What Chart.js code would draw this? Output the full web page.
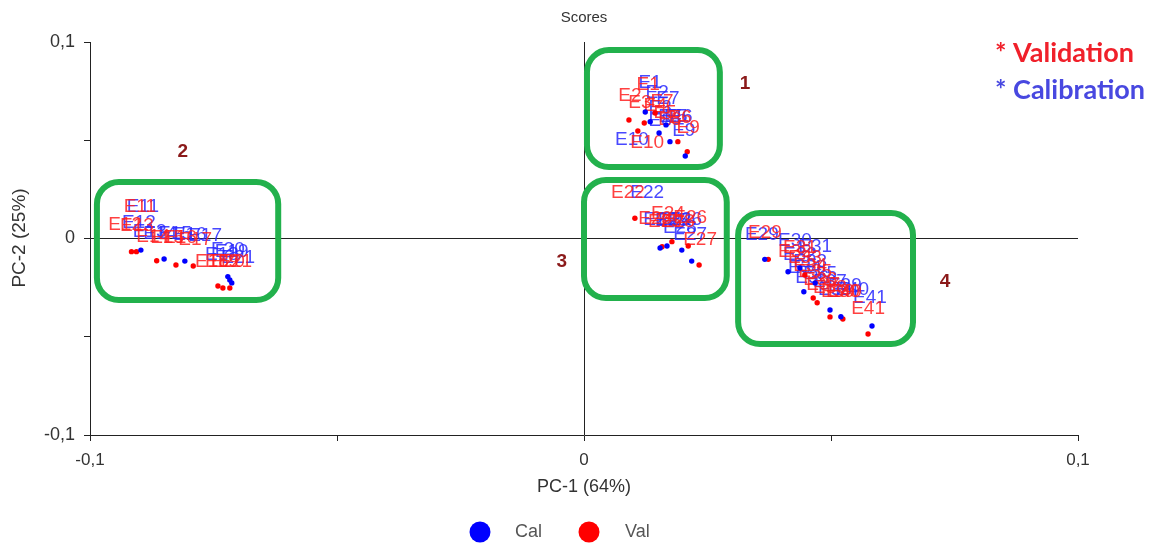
<!DOCTYPE html>
<html>
<head>
<meta charset="utf-8">
<script src="https://cdn.jsdelivr.net/npm/chart.js@4"></script>
<style>
  html, body { margin: 0; padding: 0; background: #fff; }
  #wrap { width: 1157px; height: 544px; }
</style>
</head>
<body>
<div id="wrap"><canvas id="scoresChart"></canvas></div>
<script>
// PCA scores, PC-1 vs PC-2
const calScores = [
    [0.0124, 0.0644], [0.0134, 0.0594], [0.0152, 0.0537], [0.0166, 0.0578], [0.0174, 0.0493], [0.0205, 0.0420],
    [-0.0897, -0.0059], [-0.0850, -0.0104], [-0.0808, -0.0115], [-0.0721, -0.0194], [-0.0717, -0.0211], [-0.0713, -0.0226],
    [0.0154, -0.0048], [0.0168, -0.0038], [0.0198, -0.0059], [0.0218, -0.0115],
    [0.0366, -0.0106], [0.0413, -0.0169], [0.0437, -0.0150], [0.0445, -0.0271], [0.0468, -0.0226],
    [0.0498, -0.0364], [0.0520, -0.0398], [0.0583, -0.0445]
];
const valScores = [
    [0.0091, 0.0603], [0.0122, 0.0588], [0.0109, 0.0547], [0.0144, 0.0639], [0.0190, 0.0493], [0.0209, 0.0442],
    [-0.0916, -0.0067], [-0.0906, -0.0067], [-0.0865, -0.0113], [-0.0826, -0.0135], [-0.0791, -0.0140],
    [-0.0741, -0.0242], [-0.0731, -0.0252], [-0.0717, -0.0252],
    [0.0103, 0.0103], [0.0158, -0.0042], [0.0178, -0.0016], [0.0211, -0.0038], [0.0233, -0.0135],
    [0.0373, -0.0106], [0.0447, -0.0186], [0.0464, -0.0303], [0.0472, -0.0327], [0.0498, -0.0399],
    [0.0524, -0.0410], [0.0575, -0.0486]
];

// sample names and where they sit
const calLabels = [
    ['E1', 0.0134, 0.0791], ['E2', 0.0148, 0.0740], ['E7', 0.0170, 0.0710], ['E3', 0.0154, 0.0664],
    ['E4', 0.0174, 0.0618], ['E5', 0.0186, 0.0618], ['E6', 0.0196, 0.0618], ['E8', 0.0154, 0.0598],
    ['E9', 0.0202, 0.0547], ['E10', 0.0097, 0.0501],
    ['E11', -0.0893, 0.0160], ['E12', -0.0901, 0.0079], ['E13', -0.0879, 0.0033], ['E14', -0.0858, 0.0023],
    ['E15', -0.0828, 0.0023], ['E16', -0.0798, 0.0018], ['E17', -0.0767, 0.0013], ['E18', -0.0733, -0.0084],
    ['E19', -0.0713, -0.0069], ['E20', -0.0721, -0.0059], ['E21', -0.0700, -0.0099],
    ['E22', 0.0128, 0.0232], ['E23', 0.0154, 0.0094], ['E24', 0.0184, 0.0094], ['E25', 0.0178, 0.0089],
    ['E26', 0.0205, 0.0094], ['E28', 0.0194, 0.0053], ['E27', 0.0215, 0.0018],
    ['E29', 0.0360, 0.0018], ['E30', 0.0427, -0.0013], ['E31', 0.0468, -0.0043], ['E32', 0.0437, -0.0084],
    ['E33', 0.0458, -0.0120], ['E34', 0.0447, -0.0150], ['E35', 0.0478, -0.0181], ['E36', 0.0462, -0.0201],
    ['E37', 0.0498, -0.0221], ['E38', 0.0508, -0.0262], ['E39', 0.0528, -0.0242], ['E40', 0.0543, -0.0262],
    ['E41', 0.0579, -0.0303]
];
const valLabels = [
    ['E1', 0.0130, 0.0781], ['E2', 0.0093, 0.0725], ['E3', 0.0113, 0.0690], ['E7', 0.0158, 0.0695],
    ['E4', 0.0144, 0.0674], ['E5', 0.0164, 0.0639], ['E6', 0.0194, 0.0613], ['E8', 0.0174, 0.0603],
    ['E9', 0.0211, 0.0562], ['E10', 0.0128, 0.0486],
    ['E11', -0.0899, 0.0160], ['E12', -0.0929, 0.0069], ['E13', -0.0905, 0.0064], ['E14', -0.0872, 0.0008],
    ['E15', -0.0844, 0.0003], ['E16', -0.0818, 0.0003], ['E17', -0.0787, -0.0008], ['E18', -0.0753, -0.0120],
    ['E19', -0.0733, -0.0120], ['E20', -0.0721, -0.0120], ['E21', -0.0706, -0.0120],
    ['E22', 0.0089, 0.0232], ['E23', 0.0144, 0.0099], ['E24', 0.0170, 0.0125], ['E25', 0.0164, 0.0084],
    ['E26', 0.0215, 0.0104], ['E28', 0.0190, 0.0084], ['E27', 0.0235, -0.0008],
    ['E29', 0.0366, 0.0028], ['E31', 0.0437, -0.0048], ['E32', 0.0427, -0.0069], ['E33', 0.0447, -0.0099],
    ['E34', 0.0458, -0.0140], ['E35', 0.0468, -0.0170], ['E36', 0.0478, -0.0211], ['E37', 0.0484, -0.0237],
    ['E38', 0.0498, -0.0252], ['E39', 0.0514, -0.0272], ['E40', 0.0528, -0.0272], ['E30', 0.0524, -0.0272],
    ['E41', 0.0575, -0.0359]
];

// the four sample groups, in score units: [x1, y1, x2, y2, name, nameX, nameY]
const groups = [
    [0.0006, 0.0959, 0.0275, 0.0364, '1', 0.0326, 0.0786],
    [-0.0986, 0.0288, -0.0619, -0.0313, '2', -0.0812, 0.0440],
    [0.0000, 0.0298, 0.0289, -0.0303, '3', -0.0045, -0.0120],
    [0.0312, 0.0130, 0.0666, -0.0537, '4', 0.0731, -0.0221]
];

const BLUE = '#0000ff';
const RED = '#ff0000';
const FONT = '"Liberation Sans", Arial, sans-serif';

const tickText = (v) => {
    const r = Math.round(v * 100) / 100;
    if (Math.abs(r - v) > 1e-9 || Math.abs(r) === 0.05) return '';
    return String(r).replace('.', ',');
};

const sampleLabels = {
    id: 'sampleLabels',
    beforeDatasetsDraw(chart) {
        const { ctx, scales: { x, y } } = chart;
        ctx.save();
        ctx.font = '19px ' + FONT;
        ctx.textAlign = 'center';
        ctx.textBaseline = 'middle';
        ctx.fillStyle = 'rgba(40,40,255,0.85)';
        calLabels.forEach(([t, vx, vy]) => ctx.fillText(t, x.getPixelForValue(vx), y.getPixelForValue(vy)));
        ctx.fillStyle = 'rgba(255,30,30,0.85)';
        valLabels.forEach(([t, vx, vy]) => ctx.fillText(t, x.getPixelForValue(vx), y.getPixelForValue(vy)));
        ctx.restore();
    }
};

const extras = {
    id: 'extras',
    afterDatasetsDraw(chart) {
        const { ctx, scales: { x, y } } = chart;
        ctx.save();
        // group frames
        ctx.strokeStyle = '#22b14c';
        ctx.lineWidth = 6;
        groups.forEach(([x1, y1, x2, y2, name, nx, ny]) => {
            const l = x.getPixelForValue(x1), r = x.getPixelForValue(x2);
            const t = y.getPixelForValue(y1), b = y.getPixelForValue(y2);
            ctx.beginPath();
            ctx.roundRect(l, t, r - l, b - t, 22);
            ctx.stroke();
            ctx.fillStyle = '#8b1a1a';
            ctx.font = 'bold 19px ' + FONT;
            ctx.textAlign = 'center';
            ctx.textBaseline = 'middle';
            ctx.fillText(name, x.getPixelForValue(nx), y.getPixelForValue(ny));
        });
        ctx.restore();
    },
    afterDraw(chart) {
        const { ctx } = chart;
        ctx.save();
        ctx.textBaseline = 'middle';
        ctx.textAlign = 'center';
        ctx.fillStyle = '#333';
        ctx.font = '15px ' + FONT;
        ctx.fillText('Scores', 584, 18);
        ctx.font = '18px ' + FONT;
        ctx.fillText('PC-1 (64%)', 584, 487);
        ctx.save();
        ctx.translate(20, 238);
        ctx.rotate(-Math.PI / 2);
        ctx.font = '19px ' + FONT;
        ctx.fillText('PC-2 (25%)', 0, 0);
        ctx.restore();

        // series key
        ctx.textAlign = 'left';
        ctx.font = '18px ' + FONT;
        ctx.fillStyle = BLUE;
        ctx.beginPath(); ctx.arc(480, 532, 10.5, 0, Math.PI * 2); ctx.fill();
        ctx.fillStyle = '#555';
        ctx.fillText('Cal', 515, 532);
        ctx.fillStyle = RED;
        ctx.beginPath(); ctx.arc(589, 532, 10.5, 0, Math.PI * 2); ctx.fill();
        ctx.fillStyle = '#555';
        ctx.fillText('Val', 625, 532);

        ctx.font = 'bold 27px Lato, "Open Sans", sans-serif';
        ctx.fillStyle = '#f0202a';
        ctx.fillText('* Validation', 995, 53);
        ctx.fillStyle = '#4848e0';
        ctx.fillText('* Calibration', 995, 90);
        ctx.restore();
    }
};

const zeroLine = (c) => (c.tick && Math.abs(c.tick.value) < 1e-9) ? '#222' : 'transparent';

new Chart(document.getElementById('scoresChart'), {
    type: 'scatter',
    data: {
        datasets: [
            {
                label: 'Cal',
                data: calScores.map(([vx, vy]) => ({ x: vx, y: vy })),
                backgroundColor: BLUE,
                borderWidth: 0,
                pointRadius: 2.7
            },
            {
                label: 'Val',
                data: valScores.map(([vx, vy]) => ({ x: vx, y: vy })),
                backgroundColor: RED,
                borderWidth: 0,
                pointRadius: 2.7
            }
        ]
    },
    options: {
        responsive: true,
        maintainAspectRatio: false,
        animation: false,
        layout: { padding: { top: 42, right: 79, bottom: 0, left: 0 } },
        plugins: {
            legend: { display: false },
            title: { display: false },
            tooltip: { enabled: false }
        },
        scales: {
            x: {
                min: -0.1, max: 0.1,
                afterFit: (s) => { s.height = 109; },
                border: { display: true, color: '#222', width: 1 },
                grid: { color: zeroLine, tickColor: '#222', tickLength: 6, lineWidth: 1 },
                ticks: {
                    stepSize: 0.05, autoSkip: false, maxRotation: 0, padding: 9,
                    color: '#333', font: { family: FONT, size: 17 },
                    callback: (v) => tickText(v)
                }
            },
            y: {
                min: -0.1, max: 0.1,
                afterFit: (s) => { s.width = 90; },
                border: { display: true, color: '#222', width: 1 },
                grid: { color: zeroLine, tickColor: '#222', tickLength: 6, lineWidth: 1 },
                ticks: {
                    stepSize: 0.05, autoSkip: false, padding: 9,
                    color: '#333', font: { family: FONT, size: 18 },
                    callback: (v) => tickText(v)
                }
            }
        }
    },
    plugins: [sampleLabels, extras]
});
</script>
</body>
</html>
